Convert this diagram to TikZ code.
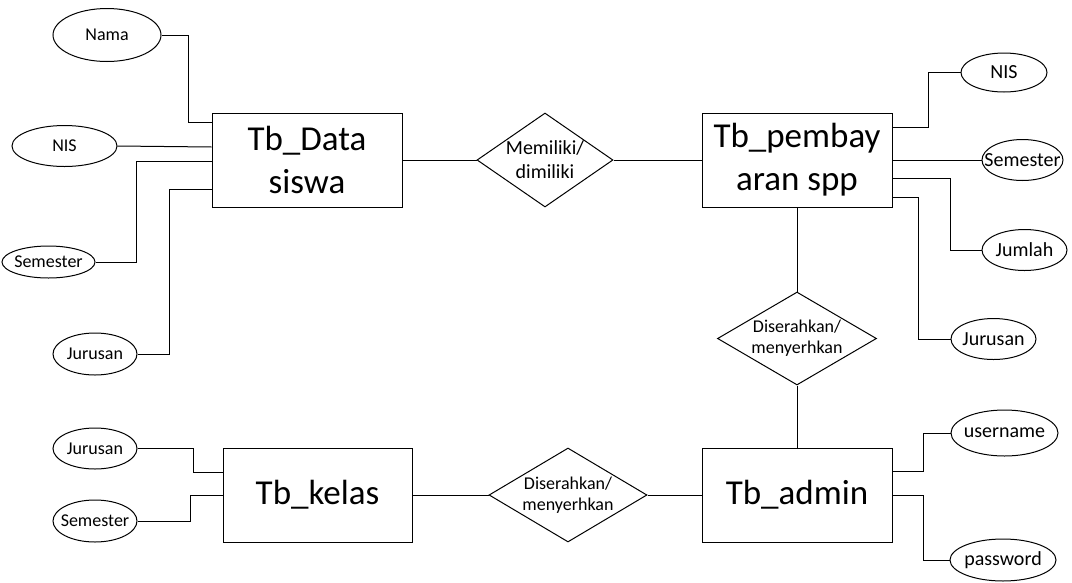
\documentclass[tikz,border=0pt]{standalone}
\usepackage{fontspec}
\setmainfont{Carlito}
\usetikzlibrary{shapes.geometric}

\newcommand\entfont{\fontsize{35}{43}\selectfont}
\newcommand\attrL{\fontsize{18}{22}\selectfont}
\newcommand\attrR{\fontsize{20}{24}\selectfont}
\newcommand\relA{\fontsize{20}{24}\selectfont}
\newcommand\relB{\fontsize{18}{21}\selectfont}

\begin{document}
\begin{tikzpicture}[x=1pt,y=-1pt,line width=1pt,
  entity/.style={draw,rectangle,minimum width=190pt,minimum height=94pt,
                 inner sep=0pt,align=center,font=\entfont},
  attr/.style={draw,ellipse,inner sep=0pt},
  rel/.style={draw,diamond,inner sep=0pt},
  conn/.style={draw,line width=1pt}]

\useasboundingbox (0,0) rectangle (1072,582);

% entities
\node[entity] (ds) at (307,160) {Tb\_Data\\siswa};
\node[entity] (pb) at (797,160) {Tb\_pembay\\aran spp};
\node[entity,minimum width=189pt] (kl) at (317.5,495) {Tb\_kelas};
\node[entity] (ad) at (797,495) {Tb\_admin};

% relationships
\node[rel,minimum width=136pt,minimum height=94pt,
  label={[font=\relA,align=center]center:Memiliki/\\dimiliki}] (r1) at (545,160) {};
\node[rel,minimum width=159pt,minimum height=93pt,
  label={[font=\relB,align=center]center:Diserahkan/\\menyerhkan}] (r2) at (797,338.5) {};
\node[rel,minimum width=158pt,minimum height=94pt,
  label={[font=\relB,align=center]center:Diserahkan/\\menyerhkan}] (r3) at (568,495) {};

% attributes of Tb_Data siswa
\node[attr,minimum width=108pt,minimum height=53pt,font=\attrL] (a1) at (107,35) {\makebox[0pt]{Nama}};
\node[attr,minimum width=105pt,minimum height=41pt,font=\attrL] (a2) at (64.5,146) {\makebox[0pt]{NIS}};
\node[attr,minimum width=93pt,minimum height=32pt,font=\attrL] (a3) at (48.5,262) {\makebox[0pt]{Semester}};
\node[attr,minimum width=84pt,minimum height=42pt,font=\attrL] (a4) at (95,354) {\makebox[0pt]{Jurusan}};

% attributes of Tb_kelas
\node[attr,minimum width=84pt,minimum height=41pt,font=\attrL] (a5) at (95,448.5) {\makebox[0pt]{Jurusan}};
\node[attr,minimum width=84pt,minimum height=42pt,font=\attrL] (a6) at (95,521) {\makebox[0pt]{Semester}};

% attributes of Tb_pembayaran spp
\node[attr,minimum width=86pt,minimum height=39pt,font=\attrR] (b1) at (1004,72.5) {\makebox[0pt]{NIS}};
\node[attr,minimum width=81pt,minimum height=41pt,font=\attrR] (b2) at (1022.5,160) {\makebox[0pt]{Semester}};
\node[attr,minimum width=85pt,minimum height=41pt,font=\attrR] (b3) at (1024.5,250) {\makebox[0pt]{Jumlah}};
\node[attr,minimum width=85pt,minimum height=41pt,font=\attrR] (b4) at (993.5,339) {\makebox[0pt]{Jurusan}};

% attributes of Tb_admin
\node[attr,minimum width=107pt,minimum height=46pt,font=\attrR] (b5) at (1004.5,433) {\makebox[0pt]{username}};
\node[attr,minimum width=106pt,minimum height=42pt,font=\attrR] (b6) at (1003,560) {\makebox[0pt]{password}};

% relationship lines
\draw[conn] (ds.east) -- (r1.west);
\draw[conn] (r1.east) -- (pb.west);
\draw[conn] (pb.south) -- (r2.north);
\draw[conn] (r2.south) -- (ad.north);
\draw[conn] (kl.east) -- (r3.west);
\draw[conn] (r3.east) -- (ad.west);

% attribute lines, left side
\draw[conn] (a1.east) -| ([xshift=-23pt,yshift=38pt]ds.west) -- ([yshift=38pt]ds.west);
\draw[conn] (a2.east) -- ([yshift=13pt]ds.west);
\draw[conn] (a3.east) -| ([xshift=-75pt,yshift=-1pt]ds.west) -- ([yshift=-1pt]ds.west);
\draw[conn] (a4.east) -| ([xshift=-42pt,yshift=-29pt]ds.west) -- ([yshift=-29pt]ds.west);
\draw[conn] (a5.east) -| ([xshift=-29pt,yshift=23pt]kl.west) -- ([yshift=23pt]kl.west);
\draw[conn] (a6.east) -| ([xshift=-32pt]kl.west) -- (kl.west);

% attribute lines, right side
\draw[conn] ([yshift=33pt]pb.east) -| ([xshift=-32pt]b1.west) -- (b1.west);
\draw[conn] (pb.east) -- (b2.west);
\draw[conn] ([yshift=-18pt]pb.east) -| ([xshift=-31pt]b3.west) -- (b3.west);
\draw[conn] ([yshift=-37pt]pb.east) -| ([xshift=-32pt]b4.west) -- (b4.west);
\draw[conn] ([yshift=24pt]ad.east) -| ([xshift=-27pt]b5.west) -- (b5.west);
\draw[conn] (ad.east) -| ([xshift=-26pt]b6.west) -- (b6.west);

\end{tikzpicture}
\end{document}
